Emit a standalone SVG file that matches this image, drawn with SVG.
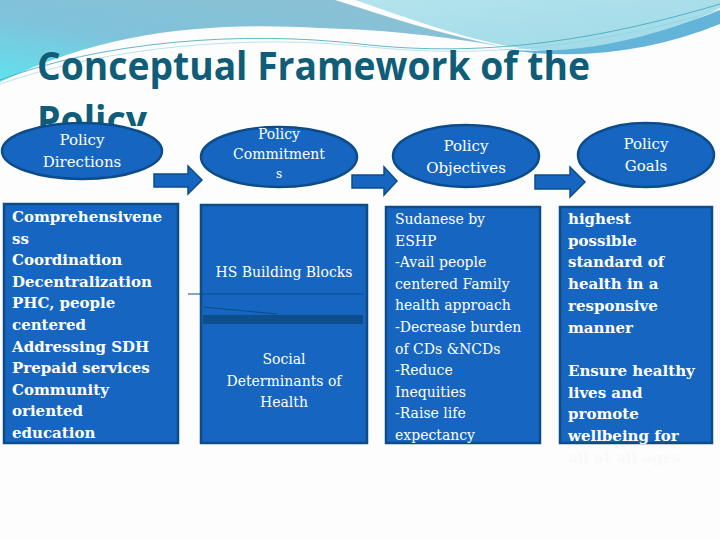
<svg xmlns="http://www.w3.org/2000/svg" width="720" height="540" viewBox="0 0 720 540">
<style>
.node{fill:#1666c1;stroke:#0c4c88;stroke-width:2.5}
.txt{font-family:"DejaVu Serif","Liberation Serif",serif;fill:#ffffff}
.reg{font-size:14px}
.bold{font-size:15px;font-weight:bold}
.ell{font-size:15px;text-anchor:middle}
.mid{text-anchor:middle}
.arrow{fill:#1666c1;stroke:#0c4c88;stroke-width:1.5}
.title{font-family:"Open Sans","Noto Sans",sans-serif;font-weight:bold;font-size:40px;fill:#0f5d79}
</style>
<defs>
<linearGradient id="gA" x1="1" y1="0" x2="0" y2="1">
<stop offset="0" stop-color="#8fbfd3"/>
<stop offset="0.6" stop-color="#7fc3da"/>
<stop offset="1" stop-color="#5fe2ef"/>
</linearGradient>
<linearGradient id="gB" x1="0" y1="0" x2="1" y2="1">
<stop offset="0" stop-color="#b4e4ec"/>
<stop offset="1" stop-color="#9dd9e7"/>
</linearGradient>
<clipPath id="clipPolicy"><rect x="0" y="90" width="200" height="36"/></clipPath>
</defs>
<rect width="720" height="540" fill="#fdfdfd"/>
<g id="background">
<path d="M0,0 H335 C385,16 440,34 505,47 C440,36 390,30 320,28 C220,22 110,28 0,82 Z" fill="url(#gA)"/>
<path d="M355,0 H720 V8 C660,38 610,52 555,52 C490,48 430,26 355,0 Z" fill="url(#gB)"/>
<path d="M495,48 C570,58 645,40 720,10 V24 C650,52 575,62 495,48 Z" fill="#64b4da"/>
<path d="M0,80 C100,42 240,30 360,44 C450,54 560,52 720,4" fill="none" stroke="#3ea4bc" stroke-width="0.8"/>
<path d="M0,84 C110,46 250,34 370,47 C460,56 570,54 720,10" fill="none" stroke="#8fd0de" stroke-width="0.6"/>
</g>
<g id="title">
<text class="title" x="37" y="80" textLength="553" lengthAdjust="spacingAndGlyphs">Conceptual Framework of the</text>
<text class="title" x="37" y="134" textLength="110" lengthAdjust="spacingAndGlyphs" clip-path="url(#clipPolicy)">Policy</text>
</g>
<g id="connectors">
<path class="arrow" d="M154,174 H188 V166 L202,180 L188,194 V187 H154 Z"/>
<path class="arrow" d="M352,175 H384 V167 L397,181 L384,195 V188 H352 Z"/>
<path class="arrow" d="M535,175 H570 V167 L585,182 L570,197 V189 H535 Z"/>
</g>
<g id="policy-directions">
<ellipse class="node" cx="82" cy="151" rx="80" ry="28"/>
<text class="txt ell" x="82" y="145">Policy</text>
<text class="txt ell" x="82" y="167">Directions</text>
</g>
<g id="policy-commitments">
<ellipse class="node" cx="279" cy="157" rx="78" ry="30"/>
<text class="txt ell" x="279" y="139" style="font-size:14px">Policy</text>
<text class="txt ell" x="279" y="159" style="font-size:14px">Commitment</text>
<text class="txt ell" x="279" y="178" style="font-size:12px">s</text>
</g>
<g id="policy-objectives">
<ellipse class="node" cx="466" cy="156" rx="73" ry="31"/>
<text class="txt ell" x="466" y="151">Policy</text>
<text class="txt ell" x="466" y="173">Objectives</text>
</g>
<g id="policy-goals">
<ellipse class="node" cx="646" cy="155" rx="68" ry="32"/>
<text class="txt ell" x="646" y="149">Policy</text>
<text class="txt ell" x="646" y="171">Goals</text>
</g>
<g id="directions-box">
<rect class="node" x="4" y="204" width="174" height="239"/>
<text class="txt bold" x="12" y="222">Comprehensivene</text>
<text class="txt bold" x="12" y="243.6">ss</text>
<text class="txt bold" x="12" y="265.2">Coordination</text>
<text class="txt bold" x="12" y="286.8">Decentralization</text>
<text class="txt bold" x="12" y="308.4">PHC, people</text>
<text class="txt bold" x="12" y="330">centered</text>
<text class="txt bold" x="12" y="351.6">Addressing SDH</text>
<text class="txt bold" x="12" y="373.2">Prepaid services</text>
<text class="txt bold" x="12" y="394.8">Community</text>
<text class="txt bold" x="12" y="416.4">oriented</text>
<text class="txt bold" x="12" y="438">education</text>
</g>
<g id="commitments-box">
<rect class="node" x="201" y="205" width="166" height="238"/>
<line x1="188" y1="294" x2="364" y2="294" stroke="#0c4c88" stroke-width="1"/>
<line x1="203" y1="307" x2="277" y2="314" stroke="#0c4c88" stroke-width="1"/>
<rect x="203" y="315" width="160" height="9" fill="#0c4f8c"/>
<text class="txt reg mid" x="284" y="277">HS Building Blocks</text>
<text class="txt reg mid" x="284" y="364">Social</text>
<text class="txt reg mid" x="284" y="386">Determinants of</text>
<text class="txt reg mid" x="284" y="407">Health</text>
</g>
<g id="objectives-box">
<rect class="node" x="386" y="207" width="154" height="236"/>
<text class="txt reg" x="395" y="224">Sudanese  by</text>
<text class="txt reg" x="395" y="245.6">ESHP</text>
<text class="txt reg" x="395" y="267.2">-Avail people</text>
<text class="txt reg" x="395" y="288.8">centered Family</text>
<text class="txt reg" x="395" y="310.4">health approach</text>
<text class="txt reg" x="395" y="332">-Decrease burden</text>
<text class="txt reg" x="395" y="353.6">of CDs &amp;NCDs</text>
<text class="txt reg" x="395" y="375.2">-Reduce</text>
<text class="txt reg" x="395" y="396.8">Inequities</text>
<text class="txt reg" x="395" y="418.4">-Raise life</text>
<text class="txt reg" x="395" y="440">expectancy</text>
</g>
<g id="goals-box">
<rect class="node" x="560" y="207" width="152" height="236"/>
<text class="txt bold" x="568" y="224">highest</text>
<text class="txt bold" x="568" y="245.7">possible</text>
<text class="txt bold" x="568" y="267.4">standard of</text>
<text class="txt bold" x="568" y="289.1">health in a</text>
<text class="txt bold" x="568" y="310.8">responsive</text>
<text class="txt bold" x="568" y="332.5">manner</text>
<text class="txt bold" x="568" y="375.9">Ensure healthy</text>
<text class="txt bold" x="568" y="397.6">lives and</text>
<text class="txt bold" x="568" y="419.3">promote</text>
<text class="txt bold" x="568" y="441">wellbeing for</text>
<text class="txt bold" x="568" y="462.7" style="fill:#f8f9fa">all at all ages</text>
</g>
</svg>
